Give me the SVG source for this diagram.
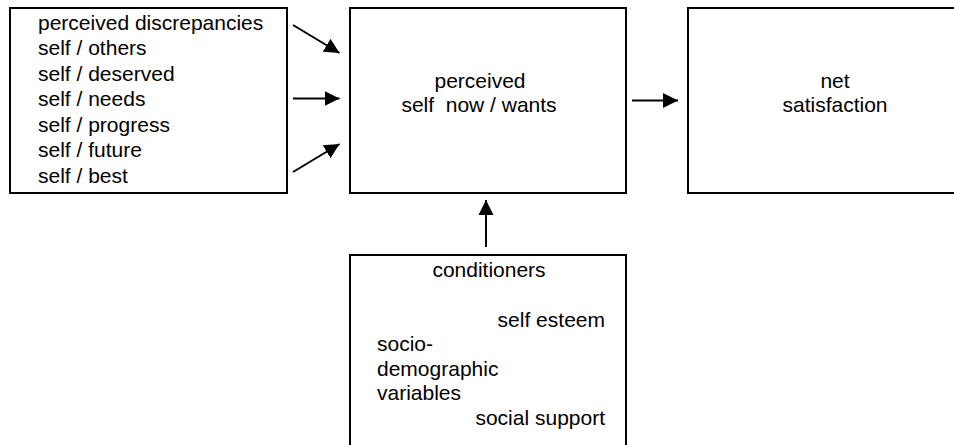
<svg xmlns="http://www.w3.org/2000/svg" width="954" height="445" viewBox="0 0 954 445">
  <defs>
    <style>
      .box { fill: #ffffff; stroke: #000000; stroke-width: 2; }
      .lbl { font-family: "Liberation Sans", Arial, sans-serif; font-size: 21px; fill: #000000; }
      .mid { text-anchor: middle; }
      .end { text-anchor: end; }
      .link { stroke: #000000; stroke-width: 2; fill: none; marker-end: url(#head); }
    </style>
    <marker id="head" markerUnits="userSpaceOnUse" markerWidth="16" markerHeight="16" refX="15" refY="8" orient="auto">
      <path d="M0,0.5 L15,8 L0,15.5 Z" fill="#000000"/>
    </marker>
  </defs>
  <rect width="954" height="445" fill="#ffffff"/>

  <!-- discrepancy sources -->
  <g id="discrepancies">
    <rect class="box" x="10" y="8" width="277" height="185"/>
    <text class="lbl" x="38" y="29.5">perceived discrepancies</text>
    <text class="lbl" x="38" y="55">self / others</text>
    <text class="lbl" x="38" y="80.5">self / deserved</text>
    <text class="lbl" x="38" y="106">self / needs</text>
    <text class="lbl" x="38" y="131.5">self / progress</text>
    <text class="lbl" x="38" y="157">self / future</text>
    <text class="lbl" x="38" y="182.5">self / best</text>
  </g>

  <!-- central comparison -->
  <g id="self-now-wants">
    <rect class="box" x="350" y="8" width="276" height="185"/>
    <text class="lbl mid" x="480" y="88">perceived</text>
    <text class="lbl mid" x="479" y="111.5" xml:space="preserve">self  now / wants</text>
  </g>

  <!-- outcome -->
  <g id="net-satisfaction">
    <rect class="box" x="688" y="8" width="300" height="185"/>
    <text class="lbl mid" x="835" y="88">net</text>
    <text class="lbl mid" x="835" y="111.5">satisfaction</text>
  </g>

  <!-- moderating factors -->
  <g id="conditioners">
    <rect class="box" x="350" y="255" width="276" height="200"/>
    <text class="lbl mid" x="489" y="277">conditioners</text>
    <text class="lbl end" x="605" y="327">self esteem</text>
    <text class="lbl" x="377" y="351">socio-</text>
    <text class="lbl" x="377" y="376">demographic</text>
    <text class="lbl" x="377" y="400">variables</text>
    <text class="lbl end" x="605" y="425">social support</text>
  </g>

  <g id="connectors">
    <line class="link" x1="293" y1="25" x2="339.5" y2="53"/>
    <line class="link" x1="293" y1="98.5" x2="339.5" y2="98.5"/>
    <line class="link" x1="293" y1="172" x2="339.5" y2="144"/>
    <line class="link" x1="632" y1="100.5" x2="678" y2="100.5"/>
    <line class="link" x1="486" y1="247" x2="486" y2="200"/>
  </g>
</svg>
